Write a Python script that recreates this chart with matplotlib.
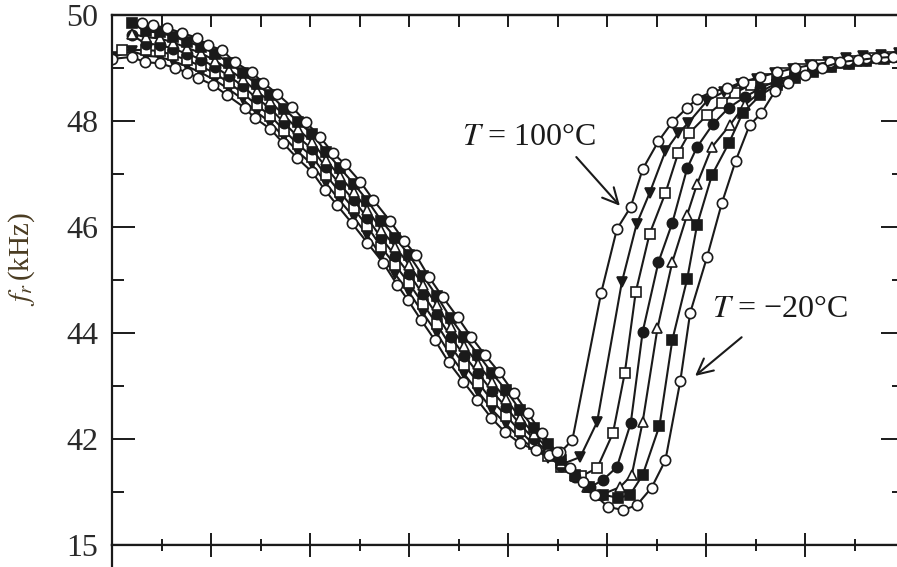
import matplotlib
matplotlib.use("Agg")
import matplotlib.pyplot as plt
from matplotlib.ticker import MultipleLocator, FixedLocator

plt.rcParams['font.family'] = ['Liberation Serif', 'DejaVu Serif']
plt.rcParams['mathtext.fontset'] = 'stix'

# ---- resonance frequency curves f_r (kHz) for seven temperatures ----
temps = ["100", "80", "60", "40", "20", "0", "-20"]

x_100 = [0.00, 0.20, 0.33, 0.48, 0.64, 0.76, 0.87, 1.02, 1.16, 1.34, 1.44, 1.60, 1.73, 1.87,
         2.02, 2.15, 2.27, 2.42, 2.58, 2.74, 2.88, 2.99, 3.12, 3.26, 3.40, 3.55, 3.69, 3.83,
         3.97, 4.12, 4.28, 4.41, 4.53, 4.65, 4.94, 5.10, 5.24, 5.36, 5.52, 5.66, 5.81, 5.91,
         6.06, 6.21, 6.37, 6.55, 6.72, 6.90, 7.07, 7.25, 7.43, 7.62, 7.80, 7.95]
f_100 = [49.17, 49.21, 49.11, 49.09, 49.00, 48.91, 48.81, 48.68, 48.49, 48.25, 48.06, 47.85, 47.58, 47.30,
         47.04, 46.70, 46.42, 46.08, 45.70, 45.32, 44.91, 44.62, 44.25, 43.87, 43.45, 43.08, 42.74, 42.40,
         42.13, 41.92, 41.79, 41.70, 41.75, 41.98, 44.75, 45.96, 46.38, 47.09, 47.62, 47.98, 48.25, 48.42,
         48.55, 48.62, 48.74, 48.83, 48.92, 49.00, 49.06, 49.11, 49.15, 49.19, 49.21, 49.22]

# shared sampling of the falling branch for the intermediate temperatures
x_fall = [0.20, 0.34, 0.48, 0.62, 0.76, 0.90, 1.04, 1.18, 1.32, 1.46, 1.60, 1.74, 1.88, 2.02,
          2.16, 2.30, 2.44, 2.58, 2.72, 2.86, 3.00, 3.14, 3.28, 3.42, 3.56, 3.70, 3.84, 3.98]

x_80 = [0.00] + x_fall + [4.12, 4.26, 4.40, 4.54, 4.73, 4.90, 5.15, 5.30, 5.43, 5.59, 5.72, 5.82,
                           6.01, 6.18, 6.35, 6.52, 6.70, 6.88, 7.05, 7.23, 7.41, 7.59, 7.77, 7.95]
f_80 = [49.20, 49.32, 49.23, 49.21, 49.13, 49.03, 48.91, 48.77, 48.60, 48.41, 48.17, 47.97, 47.69,
        47.42, 47.18, 46.83, 46.50, 46.19, 45.84, 45.45, 45.11, 44.77, 44.38, 44.00, 43.58, 43.22,
        42.89, 42.55, 42.28,
        42.02, 41.82, 41.65, 41.52, 41.66, 42.32, 44.96, 46.06, 46.64, 47.43, 47.77, 47.96,
        48.38, 48.55, 48.70, 48.80, 48.90, 48.98, 49.05, 49.12, 49.18, 49.22, 49.25, 49.28]

x_60 = [0.10] + x_fall[1:] + [4.12, 4.26, 4.40, 4.54, 4.74, 4.90, 5.06, 5.18, 5.29, 5.43, 5.59,
                               5.72, 5.83, 6.01, 6.16, 6.29, 6.45, 6.62, 6.80, 6.98, 7.16, 7.34,
                               7.52, 7.70, 7.88]
f_60 = [49.34, 49.34, 49.32, 49.24, 49.15, 49.03, 48.90, 48.72, 48.53, 48.30, 48.10, 47.82,
        47.56, 47.33, 46.98, 46.66, 46.35, 46.01, 45.62, 45.28, 44.94, 44.55, 44.17, 43.75, 43.39,
        43.06, 42.72, 42.44,
        42.15, 41.90, 41.68, 41.48, 41.30, 41.45, 42.11, 43.25, 44.77, 45.87, 46.64,
        47.40, 47.77, 48.11, 48.34, 48.53, 48.68, 48.80, 48.90, 48.98, 49.05, 49.10,
        49.14, 49.18, 49.20]

x_40 = x_fall + [4.12, 4.26, 4.40, 4.54, 4.68, 4.83, 4.96, 5.10, 5.24, 5.36, 5.52, 5.66, 5.81,
                 5.91, 6.07, 6.23, 6.39, 6.55, 6.72, 6.90, 7.08, 7.26, 7.44, 7.62, 7.80, 7.95]
f_40 = [49.62, 49.46, 49.44, 49.36, 49.27, 49.16, 49.02, 48.85, 48.66, 48.43, 48.24, 47.96,
        47.70, 47.47, 47.13, 46.81, 46.51, 46.17, 45.79, 45.46, 45.12, 44.73, 44.35, 43.93,
        43.57, 43.24, 42.90, 42.60,
        42.28, 42.00, 41.75, 41.50, 41.28, 41.09, 41.23, 41.47, 42.30, 44.02, 45.34, 46.08, 47.11,
        47.51, 47.94, 48.25, 48.45, 48.62, 48.77, 48.88, 48.97, 49.04, 49.10, 49.15, 49.19, 49.22]

x_20 = x_fall + [4.12, 4.26, 4.40, 4.54, 4.68, 4.80, 4.93, 5.13, 5.25, 5.36, 5.51, 5.66, 5.81,
                 5.91, 6.06, 6.24, 6.39, 6.55, 6.72, 6.90, 7.08, 7.26, 7.44, 7.62, 7.80, 7.95]
f_20 = [49.65, 49.58, 49.56, 49.48, 49.38, 49.28, 49.14, 48.97, 48.79, 48.56, 48.37, 48.10,
        47.84, 47.61, 47.27, 46.96, 46.66, 46.33, 45.95, 45.63, 45.29, 44.91, 44.53, 44.11,
        43.75, 43.41, 43.07, 42.76,
        42.40, 42.10, 41.82, 41.55, 41.30, 41.10, 40.94, 41.09, 41.32, 42.32, 44.09, 45.34, 46.23,
        46.81, 47.51, 47.92, 48.30, 48.55, 48.72, 48.85, 48.95, 49.03, 49.10, 49.16, 49.22, 49.27]

x_0 = x_fall + [4.12, 4.26, 4.40, 4.54, 4.68, 4.82, 4.96, 5.11, 5.23, 5.36, 5.53, 5.66, 5.81,
                5.91, 6.06, 6.23, 6.37, 6.55, 6.72, 6.90, 7.08, 7.26, 7.44, 7.62, 7.80, 7.95]
f_0 = [49.85, 49.69, 49.67, 49.59, 49.50, 49.40, 49.27, 49.10, 48.91, 48.69, 48.50, 48.23,
       47.98, 47.76, 47.42, 47.12, 46.82, 46.50, 46.12, 45.80, 45.47, 45.08, 44.70, 44.28,
       43.92, 43.59, 43.24, 42.92,
       42.55, 42.20, 41.90, 41.60, 41.33, 41.10, 40.95, 40.89, 40.94, 41.32, 42.25, 43.87, 45.02,
       46.04, 46.98, 47.58, 48.15, 48.49, 48.68, 48.82, 48.93, 49.01, 49.08, 49.13, 49.17, 49.20]

x_m20 = [0.30, 0.41, 0.56, 0.71, 0.86, 0.97, 1.11, 1.24, 1.41, 1.53, 1.67, 1.82, 1.96, 2.10,
         2.23, 2.35, 2.51, 2.64, 2.81, 2.95, 3.07, 3.20, 3.34, 3.49, 3.63, 3.77, 3.91, 4.06,
         4.20, 4.34, 4.49, 4.63, 4.76, 4.88, 5.01, 5.16, 5.30, 5.45, 5.59, 5.74, 5.84, 6.01,
         6.16, 6.30, 6.44, 6.56, 6.70, 6.83, 7.00, 7.17, 7.35, 7.54, 7.72, 7.89]
f_m20 = [49.84, 49.81, 49.75, 49.66, 49.57, 49.43, 49.34, 49.11, 48.92, 48.72, 48.51, 48.26,
         47.98, 47.70, 47.40, 47.19, 46.85, 46.51, 46.11, 45.74, 45.47, 45.06, 44.68, 44.30,
         43.92, 43.58, 43.26, 42.87, 42.49, 42.11, 41.75, 41.45, 41.19, 40.94, 40.72, 40.66,
         40.75, 41.08, 41.60, 43.09, 44.38, 45.43, 46.45, 47.25, 47.92, 48.15, 48.57, 48.72,
         48.87, 49.00, 49.11, 49.15, 49.19, 49.21]

y_ticks = [42, 44, 46, 48, 50]
lower_tick = [15]

ink = "#1a1a1a"
series = [
    (x_80, f_80, "v", ink),
    (x_60, f_60, "s", "white"),
    (x_40, f_40, "o", ink),
    (x_20, f_20, "^", "white"),
    (x_0, f_0, "s", ink),
    (x_100, f_100, "o", "white"),
    (x_m20, f_m20, "o", "white"),
]

W, H = 897, 567
fig = plt.figure(figsize=(W / 100, H / 100), dpi=100)
left, bottom, width, height = 112 / W, 22 / H, 792 / W, 530 / H
ax = fig.add_axes([left, bottom, width, height])
ax2 = fig.add_axes([left, bottom - 1.0, width, 1.0])

for xs, ys, mk, fc in series:
    ms = 7.4 if mk != "s" else 6.6
    ax.plot(xs, ys, color=ink, lw=1.5, marker=mk, ms=ms, mfc=fc, mec=ink, mew=1.2,
            clip_on=True)

ax.set_xlim(0, 8)
ax.set_ylim(40, 50)
ax.yaxis.set_major_locator(FixedLocator(y_ticks))
ax.yaxis.set_minor_locator(FixedLocator([41, 43, 45, 47, 49]))
ax.xaxis.set_major_locator(MultipleLocator(1))
ax.xaxis.set_minor_locator(MultipleLocator(0.5))

for a in (ax, ax2):
    for s in a.spines.values():
        s.set_linewidth(1.6)
        s.set_color(ink)

ax.tick_params(axis="y", which="major", direction="in", length=16.5, width=1.4,
               left=True, right=True, labelsize=23, pad=10, labelcolor="#2a2a2a", color=ink)
ax.tick_params(axis="y", which="minor", direction="in", length=8.6, width=1.4,
               left=True, right=True, color=ink)
ax.tick_params(axis="x", which="major", direction="in", length=8.6, width=1.4,
               top=False, bottom=True, labelbottom=False, color=ink)
ax.tick_params(axis="x", which="minor", direction="in", length=4.3, width=1.4,
               top=False, bottom=True, color=ink)

top = ax.secondary_xaxis("top")
top.set_xticks([i * 0.5 for i in range(17)])
top.tick_params(direction="in", length=8.6, width=1.4, labeltop=False, color=ink)
top.spines["top"].set_linewidth(1.6)

# lower panel, only its upper edge lies inside the figure
ax2.set_xlim(0, 8)
ax2.set_ylim(0, 15)
ax2.yaxis.set_major_locator(FixedLocator(lower_tick))
ax2.xaxis.set_major_locator(MultipleLocator(1))
ax2.xaxis.set_minor_locator(MultipleLocator(0.5))
ax2.tick_params(axis="y", which="major", direction="in", length=16.5, width=1.4,
                left=True, right=True, labelsize=23, pad=10, labelcolor="#2a2a2a", color=ink)
ax2.tick_params(axis="x", which="major", direction="in", length=8.6, width=1.4,
                top=True, bottom=False, labelbottom=False, color=ink)
ax2.tick_params(axis="x", which="minor", direction="in", length=4.3, width=1.4,
                top=True, bottom=False, color=ink)

ax.set_ylabel(r"$f_r\,$(kHz)", fontsize=21, color="#4a3c22")
ax.yaxis.set_label_coords(-0.095, 0.54)

arrow = dict(arrowstyle="->", lw=1.5, color=ink, mutation_scale=28, shrinkA=0, shrinkB=0)
ax.annotate("", xy=(5.13, 46.40), xytext=(4.69, 47.32), arrowprops=arrow)
ax.text(3.535, 47.55, r"$T$ = 100°C", fontsize=23, color=ink, ha="left", va="baseline")
ax.annotate("", xy=(5.89, 43.19), xytext=(6.36, 43.92), arrowprops=arrow)
ax.text(6.06, 44.30, r"$T$ = −20°C", fontsize=23, color=ink, ha="left", va="baseline")

fig.savefig("out.png", dpi=100)
